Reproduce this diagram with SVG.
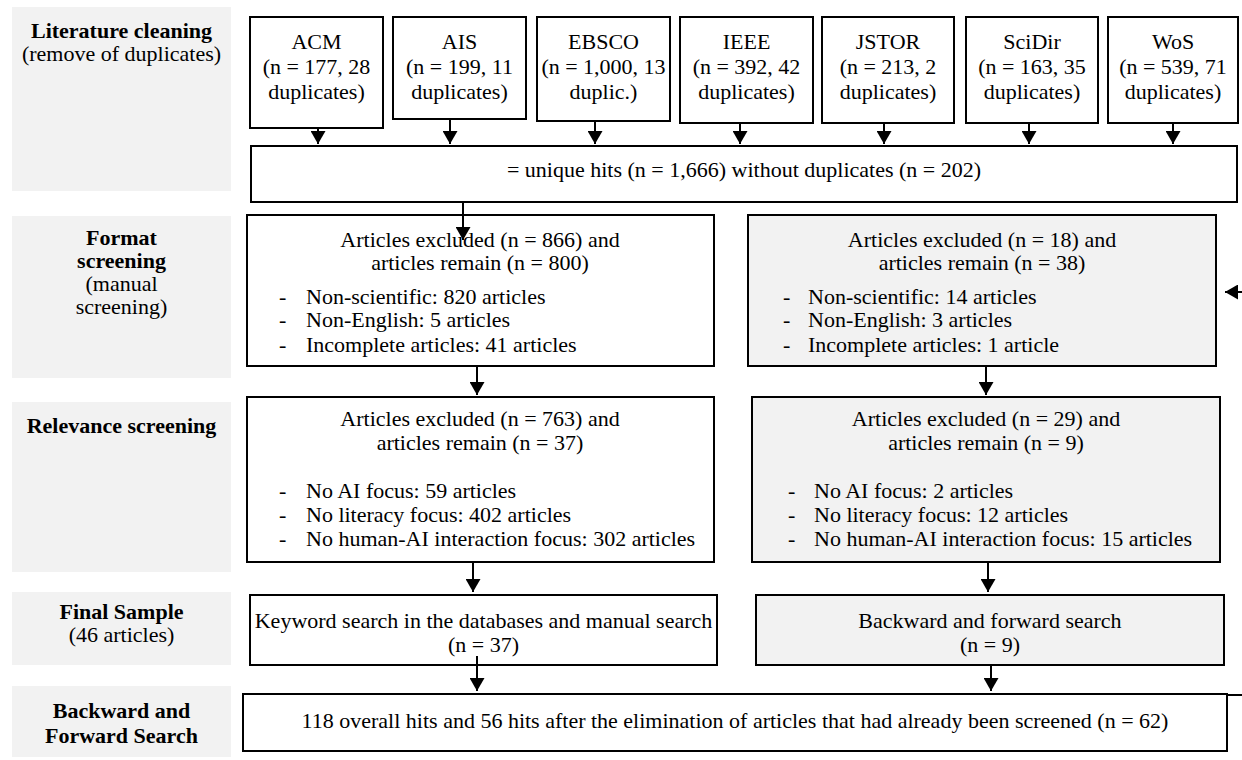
<svg xmlns="http://www.w3.org/2000/svg" width="1242" height="760" viewBox="0 0 1242 760">
<defs>
<style>
text{font-family:"Liberation Serif","Times New Roman",serif;font-size:22px;fill:#000}
.b{font-weight:bold}
.c{text-anchor:middle}
.lab{fill:#f2f2f2}
.box{fill:#fff;stroke:#000;stroke-width:2}
.gbox{fill:#f2f2f2;stroke:#000;stroke-width:2}
.conn path{stroke:#000;stroke-width:2;fill:none;marker-end:url(#ah)}
</style>
<marker id="ah" markerUnits="userSpaceOnUse" markerWidth="13" markerHeight="15" viewBox="0 0 13 15" refX="13" refY="7.5" orient="auto">
<path d="M0,0 L13,7.5 L0,15 z" fill="#000"/>
</marker>
</defs>
<rect width="1242" height="760" fill="#fff"/>

<g id="label-cleaning">
<rect class="lab" x="12" y="7" width="219" height="184"/>
<text class="c b" x="121.5" y="38">Literature cleaning</text>
<text class="c" x="121.5" y="61">(remove of duplicates)</text>
</g>
<g id="label-format">
<rect class="lab" x="12" y="216" width="219" height="162"/>
<text class="c b" x="121.5" y="245">Format</text>
<text class="c b" x="121.5" y="268">screening</text>
<text class="c" x="121.5" y="291">(manual</text>
<text class="c" x="121.5" y="314">screening)</text>
</g>
<g id="label-relevance">
<rect class="lab" x="12" y="402" width="219" height="170"/>
<text class="c b" x="121.5" y="433">Relevance screening</text>
</g>
<g id="label-final">
<rect class="lab" x="12" y="592" width="219" height="73"/>
<text class="c b" x="121.5" y="619">Final Sample</text>
<text class="c" x="121.5" y="642">(46 articles)</text>
</g>
<g id="label-bfs">
<rect class="lab" x="12" y="686" width="219" height="71"/>
<text class="c b" x="121.5" y="718">Backward and</text>
<text class="c b" x="121.5" y="743">Forward Search</text>
</g>

<g id="db-acm">
<rect class="box" x="250" y="17" width="133" height="111"/>
<text class="c" x="316.5" y="49">ACM</text>
<text class="c" x="316.5" y="74">(n = 177, 28</text>
<text class="c" x="316.5" y="99">duplicates)</text>
</g>
<g id="db-ais">
<rect class="box" x="393" y="17" width="133" height="102"/>
<text class="c" x="459.5" y="49">AIS</text>
<text class="c" x="459.5" y="74">(n = 199, 11</text>
<text class="c" x="459.5" y="99">duplicates)</text>
</g>
<g id="db-ebsco">
<rect class="box" x="537" y="17" width="133" height="104"/>
<text class="c" x="603.5" y="49">EBSCO</text>
<text class="c" x="603.5" y="74">(n = 1,000, 13</text>
<text class="c" x="603.5" y="99">duplic.)</text>
</g>
<g id="db-ieee">
<rect class="box" x="680" y="17" width="133" height="106"/>
<text class="c" x="746.5" y="49">IEEE</text>
<text class="c" x="746.5" y="74">(n = 392, 42</text>
<text class="c" x="746.5" y="99">duplicates)</text>
</g>
<g id="db-jstor">
<rect class="box" x="822" y="17" width="132" height="106"/>
<text class="c" x="888" y="49">JSTOR</text>
<text class="c" x="888" y="74">(n = 213, 2</text>
<text class="c" x="888" y="99">duplicates)</text>
</g>
<g id="db-scidir">
<rect class="box" x="966" y="17" width="132" height="106"/>
<text class="c" x="1032" y="49">SciDir</text>
<text class="c" x="1032" y="74">(n = 163, 35</text>
<text class="c" x="1032" y="99">duplicates)</text>
</g>
<g id="db-wos">
<rect class="box" x="1108" y="17" width="130" height="106"/>
<text class="c" x="1173" y="49">WoS</text>
<text class="c" x="1173" y="74">(n = 539, 71</text>
<text class="c" x="1173" y="99">duplicates)</text>
</g>

<g id="unique">
<rect class="box" x="251" y="146" width="986" height="56"/>
<text class="c" x="744" y="177">= unique hits (n = 1,666) without duplicates (n = 202)</text>
</g>

<g id="format-left">
<rect class="box" x="247" y="215" width="467" height="151"/>
<text class="c" x="480" y="247">Articles excluded (n = 866) and</text>
<text class="c" x="480" y="270">articles remain (n = 800)</text>
<text x="279" y="304">-</text><text x="306" y="304">Non-scientific: 820 articles</text>
<text x="279" y="327">-</text><text x="306" y="327">Non-English: 5 articles</text>
<text x="279" y="352">-</text><text x="306" y="352">Incomplete articles: 41 articles</text>
</g>
<g id="format-right">
<rect class="gbox" x="748" y="215" width="468" height="151"/>
<text class="c" x="982" y="247">Articles excluded (n = 18) and</text>
<text class="c" x="982" y="270">articles remain (n = 38)</text>
<text x="783" y="304">-</text><text x="808" y="304">Non-scientific: 14 articles</text>
<text x="783" y="327">-</text><text x="808" y="327">Non-English: 3 articles</text>
<text x="783" y="352">-</text><text x="808" y="352">Incomplete articles: 1 article</text>
</g>

<g id="relevance-left">
<rect class="box" x="247" y="397" width="467" height="165"/>
<text class="c" x="480" y="426">Articles excluded (n = 763) and</text>
<text class="c" x="480" y="450">articles remain (n = 37)</text>
<text x="279" y="498">-</text><text x="306" y="498">No AI focus: 59 articles</text>
<text x="279" y="522">-</text><text x="306" y="522">No literacy focus: 402 articles</text>
<text x="279" y="546">-</text><text x="306" y="546">No human-AI interaction focus: 302 articles</text>
</g>
<g id="relevance-right">
<rect class="gbox" x="752" y="397" width="468" height="165"/>
<text class="c" x="986" y="426">Articles excluded (n = 29) and</text>
<text class="c" x="986" y="450">articles remain (n = 9)</text>
<text x="788" y="498">-</text><text x="814" y="498">No AI focus: 2 articles</text>
<text x="788" y="522">-</text><text x="814" y="522">No literacy focus: 12 articles</text>
<text x="788" y="546">-</text><text x="814" y="546">No human-AI interaction focus: 15 articles</text>
</g>

<g id="final-left">
<rect class="box" x="250" y="595" width="467" height="70"/>
<text class="c" x="483.5" y="628">Keyword search in the databases and manual search</text>
<text class="c" x="483.5" y="652">(n = 37)</text>
</g>
<g id="final-right">
<rect class="gbox" x="756" y="595" width="468" height="70"/>
<text class="c" x="990" y="628">Backward and forward search</text>
<text class="c" x="990" y="652">(n = 9)</text>
</g>

<g id="bfs-hits">
<rect class="box" x="243" y="694" width="984" height="57"/>
<text class="c" x="735" y="728">118 overall hits and 56 hits after the elimination of articles that had already been screened (n = 62)</text>
</g>

<g id="connectors" class="conn">
<path d="M318,128 V144"/>
<path d="M450,119 V144"/>
<path d="M595,121 V144"/>
<path d="M740,123 V144"/>
<path d="M884,123 V144"/>
<path d="M1029,123 V144"/>
<path d="M1173,123 V144"/>
<path d="M463,202 V240"/>
<path d="M477,366 V395"/>
<path d="M986,366 V395"/>
<path d="M473,562 V592"/>
<path d="M988,562 V592"/>
<path d="M477,656 V691"/>
<path d="M991,665 V691"/>
<path d="M1227,695 H1262 V292 H1225"/>
</g>
</svg>
